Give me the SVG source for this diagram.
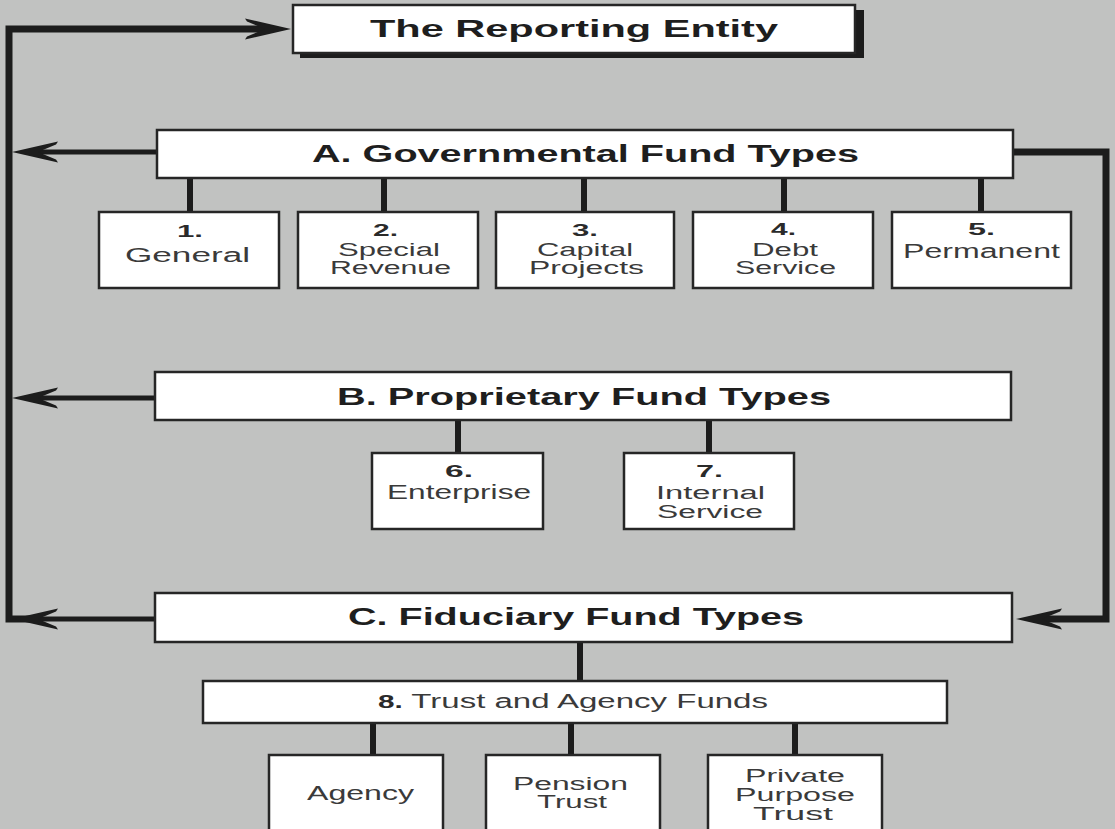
<svg xmlns="http://www.w3.org/2000/svg" width="1115" height="829" viewBox="0 0 1115 829">
<style>
.bg{fill:#c1c2c1}
.box{fill:#ffffff;stroke:#262626;stroke-width:2.5}
.shadow{fill:#1c1c1c}
.con{fill:none;stroke:#1c1c1c;stroke-width:5;stroke-linejoin:miter}
.bus{fill:none;stroke:#1c1c1c;stroke-width:7;stroke-linejoin:miter}
.tick{stroke:#1c1c1c;stroke-width:6}
.h{font-family:"Liberation Sans",Arial,sans-serif;font-weight:bold;font-size:23px;fill:#1e1e1e}
.n{font-family:"Liberation Sans",Arial,sans-serif;font-weight:bold;font-size:17px;fill:#2a2a2a}
.t{font-family:"Liberation Sans",Arial,sans-serif;font-size:20px;fill:#3a3a3a}
.t2{font-family:"Liberation Sans",Arial,sans-serif;font-size:18px;fill:#3a3a3a}
</style>
<defs>
<marker id="arr" markerUnits="userSpaceOnUse" viewBox="-30 -12 52 24" refX="0" refY="0" markerWidth="52" markerHeight="24" orient="auto" overflow="visible">
<path d="M20 0 L-26 -10.5 L-24 -7.5 L-6 0 L-24 7.5 L-26 10.5 Z" fill="#1c1c1c"/>
</marker>
</defs>
<rect class="bg" x="0" y="0" width="1115" height="829"/>

<g id="connectors">
<path class="bus" d="M32 619 H9 V29 H271" marker-end="url(#arr)"/>
<path class="con" d="M157 152 H32" marker-end="url(#arr)"/>
<path class="con" d="M155 398 H32" marker-end="url(#arr)"/>
<path class="con" d="M155 619 H32" marker-end="url(#arr)"/>
<path class="bus" d="M1013 152 H1106 V619 H1036" marker-end="url(#arr)"/>
<line class="tick" x1="190" y1="178" x2="190" y2="212"/>
<line class="tick" x1="384" y1="178" x2="384" y2="212"/>
<line class="tick" x1="584" y1="178" x2="584" y2="212"/>
<line class="tick" x1="784" y1="178" x2="784" y2="212"/>
<line class="tick" x1="981" y1="178" x2="981" y2="212"/>
<line class="tick" x1="458" y1="420" x2="458" y2="453"/>
<line class="tick" x1="709" y1="420" x2="709" y2="453"/>
<line class="tick" x1="580" y1="642" x2="580" y2="681"/>
<line class="tick" x1="373" y1="723" x2="373" y2="755"/>
<line class="tick" x1="571" y1="723" x2="571" y2="755"/>
<line class="tick" x1="795" y1="723" x2="795" y2="755"/>
</g>

<g id="reporting-entity">
<rect class="shadow" x="300" y="10" width="564" height="48"/>
<rect class="box" x="293" y="5" width="562" height="48"/>
<text class="h" x="370" y="37" textLength="408" lengthAdjust="spacingAndGlyphs">The Reporting Entity</text>
</g>

<g id="governmental">
<rect class="box" x="157" y="130" width="856" height="48"/>
<text class="h" x="312" y="162" textLength="547" lengthAdjust="spacingAndGlyphs">A. Governmental Fund Types</text>
</g>

<g id="general">
<rect class="box" x="99" y="212" width="180" height="76"/>
<text class="n" x="177" y="237" textLength="26" lengthAdjust="spacingAndGlyphs">1.</text>
<text class="t" x="125" y="262" textLength="125" lengthAdjust="spacingAndGlyphs">General</text>
</g>

<g id="special-revenue">
<rect class="box" x="298" y="212" width="180" height="76"/>
<text class="n" x="373" y="236" textLength="25" lengthAdjust="spacingAndGlyphs">2.</text>
<text class="t2" x="338" y="256" textLength="102" lengthAdjust="spacingAndGlyphs">Special</text>
<text class="t2" x="330" y="274" textLength="121" lengthAdjust="spacingAndGlyphs">Revenue</text>
</g>

<g id="capital-projects">
<rect class="box" x="496" y="212" width="178" height="76"/>
<text class="n" x="572" y="236" textLength="26" lengthAdjust="spacingAndGlyphs">3.</text>
<text class="t2" x="537" y="256" textLength="96" lengthAdjust="spacingAndGlyphs">Capital</text>
<text class="t2" x="529" y="274" textLength="115" lengthAdjust="spacingAndGlyphs">Projects</text>
</g>

<g id="debt-service">
<rect class="box" x="693" y="212" width="180" height="76"/>
<text class="n" x="771" y="235" textLength="25" lengthAdjust="spacingAndGlyphs">4.</text>
<text class="t2" x="752" y="256" textLength="66" lengthAdjust="spacingAndGlyphs">Debt</text>
<text class="t2" x="735" y="274" textLength="101" lengthAdjust="spacingAndGlyphs">Service</text>
</g>

<g id="permanent">
<rect class="box" x="892" y="212" width="179" height="76"/>
<text class="n" x="968" y="235" textLength="27" lengthAdjust="spacingAndGlyphs">5.</text>
<text class="t" x="903" y="258" textLength="157" lengthAdjust="spacingAndGlyphs">Permanent</text>
</g>

<g id="proprietary">
<rect class="box" x="155" y="372" width="856" height="48"/>
<text class="h" x="337" y="405" textLength="494" lengthAdjust="spacingAndGlyphs">B. Proprietary Fund Types</text>
</g>

<g id="enterprise">
<rect class="box" x="372" y="453" width="171" height="76"/>
<text class="n" x="445" y="477" textLength="28" lengthAdjust="spacingAndGlyphs">6.</text>
<text class="t" x="387" y="499" textLength="144" lengthAdjust="spacingAndGlyphs">Enterprise</text>
</g>

<g id="internal-service">
<rect class="box" x="624" y="453" width="170" height="76"/>
<text class="n" x="696" y="477" textLength="27" lengthAdjust="spacingAndGlyphs">7.</text>
<text class="t2" x="656" y="499" textLength="109" lengthAdjust="spacingAndGlyphs">Internal</text>
<text class="t2" x="657" y="518" textLength="106" lengthAdjust="spacingAndGlyphs">Service</text>
</g>

<g id="fiduciary">
<rect class="box" x="155" y="593" width="857" height="49"/>
<text class="h" x="348" y="625" textLength="456" lengthAdjust="spacingAndGlyphs">C. Fiduciary Fund Types</text>
</g>

<g id="trust-agency">
<rect class="box" x="203" y="681" width="744" height="42"/>
<text class="t" x="378" y="708" textLength="390" lengthAdjust="spacingAndGlyphs"><tspan font-weight="bold" font-size="18" fill="#2a2a2a">8.</tspan> Trust and Agency Funds</text>
</g>

<g id="agency">
<rect class="box" x="269" y="755" width="174" height="84"/>
<text class="t" x="307" y="800" textLength="107" lengthAdjust="spacingAndGlyphs">Agency</text>
</g>

<g id="pension-trust">
<rect class="box" x="486" y="755" width="174" height="84"/>
<text class="t2" x="513" y="790" textLength="115" lengthAdjust="spacingAndGlyphs">Pension</text>
<text class="t2" x="537" y="808" textLength="70" lengthAdjust="spacingAndGlyphs">Trust</text>
</g>

<g id="private-purpose-trust">
<rect class="box" x="708" y="755" width="174" height="84"/>
<text class="t2" x="745" y="782" textLength="100" lengthAdjust="spacingAndGlyphs">Private</text>
<text class="t2" x="735" y="801" textLength="120" lengthAdjust="spacingAndGlyphs">Purpose</text>
<text class="t2" x="753" y="820" textLength="80" lengthAdjust="spacingAndGlyphs">Trust</text>
</g>
</svg>
